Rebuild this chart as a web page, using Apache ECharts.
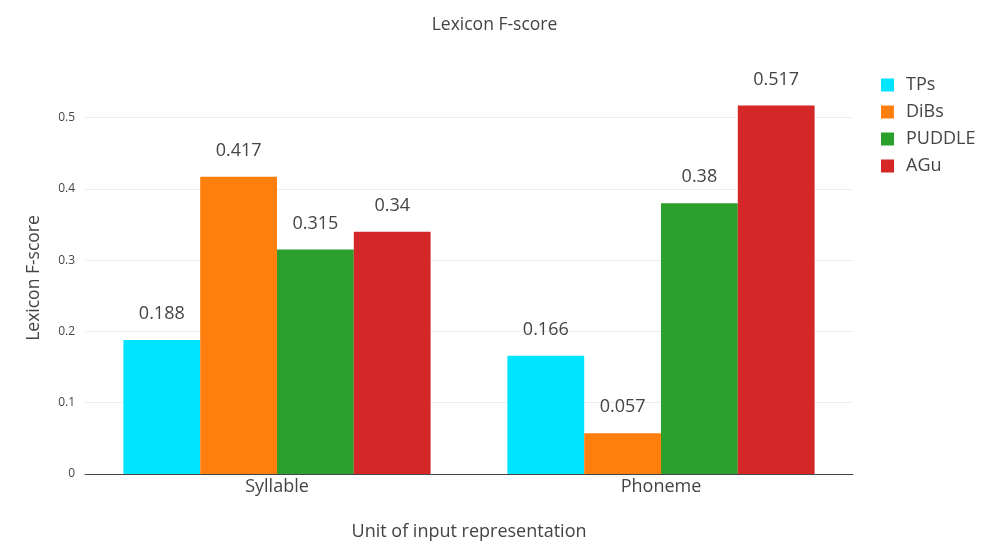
<!DOCTYPE html>
<html>
<head>
<meta charset="utf-8">
<script src="https://cdn.jsdelivr.net/npm/echarts@6/dist/echarts.min.js"></script>
<style>
html, body { margin: 0; padding: 0; background: #fff; }
#chart { width: 989px; height: 553px; }
</style>
</head>
<body>
<div id="chart"></div>
<script>
var units = ['Syllable', 'Phoneme'];
var tps = [0.188, 0.166];
var dibs = [0.417, 0.057];
var puddle = [0.315, 0.38];
var agu = [0.34, 0.517];

var font = '"Open Sans", sans-serif';
var colors = ['#00e5ff', '#ff7f0e', '#2ca02c', '#d62728'];

function bar(name, data) {
    return {
        name: name,
        type: 'bar',
        data: data,
        barGap: '0%',
        barCategoryGap: '20%',
        label: {
            show: true,
            position: 'top',
            distance: 17,
            fontFamily: font,
            fontSize: 18,
            color: '#444'
        }
    };
}

var chart = echarts.init(document.getElementById('chart'));
chart.setOption({
    color: colors,
    animation: false,
    title: {
        text: 'Lexicon F-score',
        left: 'center',
        top: 11,
        textStyle: { fontFamily: font, fontSize: 17.5, fontWeight: 'normal', color: '#444' }
    },
    legend: {
        orient: 'vertical',
        left: 876,
        top: 71,
        itemWidth: 13,
        itemHeight: 13,
        itemGap: 9,
        icon: 'rect',
        textStyle: { fontFamily: font, fontSize: 18, color: '#444', padding: [0, 0, 0, 7] },
        data: ['TPs', 'DiBs', 'PUDDLE', 'AGu']
    },
    grid: { left: 85, right: 136, top: 82, bottom: 79 },
    xAxis: {
        type: 'category',
        data: units,
        name: 'Unit of input representation',
        nameLocation: 'middle',
        nameGap: 49,
        nameTextStyle: { fontFamily: font, fontSize: 18, color: '#444' },
        axisLine: { lineStyle: { color: '#444', width: 1 } },
        axisTick: { show: false },
        axisLabel: { fontFamily: font, fontSize: 18, color: '#444', margin: 4 }
    },
    yAxis: {
        type: 'value',
        min: 0,
        max: 0.55,
        interval: 0.1,
        name: 'Lexicon F-score',
        nameLocation: 'middle',
        nameGap: 42,
        nameTextStyle: { fontFamily: font, fontSize: 17.5, color: '#444' },
        axisLine: { show: false },
        axisTick: { show: false },
        axisLabel: { fontFamily: font, fontSize: 12, color: '#444', showMaxLabel: false, margin: 10 },
        splitLine: { showMaxLine: false, lineStyle: { color: '#eee' } }
    },
    series: [
        bar('TPs', tps),
        bar('DiBs', dibs),
        bar('PUDDLE', puddle),
        bar('AGu', agu)
    ]
});
</script>
</body>
</html>
